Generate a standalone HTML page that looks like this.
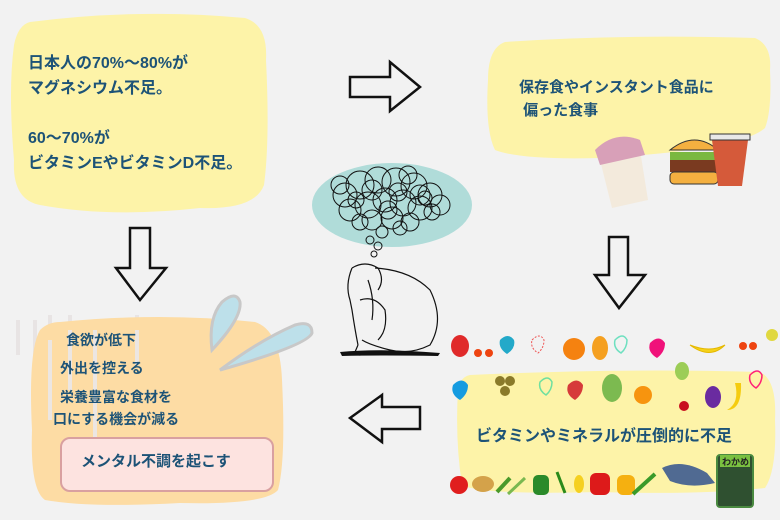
<!DOCTYPE html>
<html><head><meta charset="utf-8"><style>
html,body{margin:0;padding:0;background:#f2f2f2;}
#c{position:relative;width:780px;height:520px;overflow:hidden;background:#f2f2f2;font-family:"Liberation Sans","Noto Sans CJK JP",sans-serif;font-weight:bold;color:#1d5377;}
.t{position:absolute;white-space:nowrap;}
svg{position:absolute;left:0;top:0;}
</style></head><body><div id="c">
<svg width="780" height="520" viewBox="0 0 780 520">
<path d="M30 22 Q140 8 245 18 Q268 25 266 60 Q270 140 264 185 Q255 210 200 208 Q110 218 40 205 Q12 200 14 160 Q8 90 14 45 Q18 25 30 22Z" fill="#fdf3a8"/>
<path d="M505 42 Q620 34 755 38 Q772 45 770 70 Q772 110 765 128 Q740 150 600 158 Q520 160 495 150 Q485 130 488 80 Q488 48 505 42Z" fill="#fdf3a8"/>
<g stroke="#e8e4e4" stroke-width="4" fill="none"><path d="M18 320 L18 355"/><path d="M35 320 L35 380"/><path d="M50 315 L50 420"/><path d="M70 315 L70 390"/><path d="M95 320 L95 455"/><path d="M137 315 L137 365"/></g>
<path d="M60 322 Q160 312 255 322 Q280 330 282 380 Q286 460 278 490 Q265 505 180 503 Q90 508 45 500 Q30 490 32 430 Q28 350 40 330 Q48 322 60 322Z" fill="#fddca4"/>
<g stroke="#ece6e2" stroke-width="4" fill="none"><path d="M50 340 L50 420"/><path d="M70 330 L70 390"/><path d="M95 330 L95 455"/><path d="M137 330 L137 365"/></g>
<rect x="61" y="438" width="212" height="53" rx="9" fill="#fde3e0" stroke="#d9a0a0" stroke-width="2"/>
<path d="M470 375 Q620 368 760 372 Q777 380 775 420 Q777 470 765 488 Q700 495 600 492 Q480 495 462 485 Q455 440 458 390 Q460 377 470 375Z" fill="#fdf3a8"/>
<g fill="none" stroke="#111" stroke-width="2.5" stroke-linejoin="miter">
<path d="M350 77 L390 77 L390 62 L420 87 L390 111 L390 97 L350 97Z"/>
<path d="M130 228 L150 228 L150 268 L166 268 L140 300 L116 268 L130 268Z"/>
<path d="M609 237 L628 237 L628 275 L645 275 L619 308 L595 275 L609 275Z"/>
<path d="M420 407 L382 407 L382 395 L350 418 L382 442 L382 429 L420 429Z"/>
</g>
<ellipse cx="392" cy="205" rx="80" ry="42" fill="#b0dcd9"/>
<g fill="none" stroke="#111" stroke-width="1">
<circle cx="345" cy="195" r="12"/><circle cx="360" cy="185" r="14"/><circle cx="378" cy="180" r="13"/><circle cx="396" cy="182" r="14"/><circle cx="414" cy="186" r="13"/><circle cx="430" cy="195" r="12"/><circle cx="440" cy="205" r="10"/>
<circle cx="350" cy="210" r="11"/><circle cx="368" cy="205" r="13"/><circle cx="385" cy="200" r="12"/><circle cx="403" cy="203" r="13"/><circle cx="420" cy="208" r="12"/><circle cx="372" cy="220" r="10"/><circle cx="392" cy="218" r="11"/><circle cx="410" cy="222" r="9"/><circle cx="382" cy="232" r="6"/><circle cx="370" cy="240" r="4"/>
<circle cx="356" cy="200" r="8"/><circle cx="398" cy="192" r="9"/><circle cx="425" cy="198" r="7"/>
<circle cx="340" cy="185" r="9"/><circle cx="372" cy="190" r="10"/><circle cx="388" cy="210" r="9"/><circle cx="408" cy="175" r="9"/><circle cx="432" cy="212" r="8"/><circle cx="360" cy="222" r="8"/><circle cx="400" cy="228" r="7"/><circle cx="420" cy="195" r="10"/><circle cx="378" cy="246" r="4"/><circle cx="374" cy="254" r="3"/>
</g>
<g fill="none" stroke="#111" stroke-width="1.2">
<path d="M352 268 Q345 285 350 300 L352 310 Q355 330 358 345"/>
<path d="M352 268 Q365 260 378 268 Q385 280 378 290"/>
<path d="M375 268 Q410 270 430 290 Q445 320 430 345 Q410 355 390 350 Q370 345 362 340"/>
<path d="M360 300 Q375 295 385 310 Q388 330 378 340"/>
<path d="M368 280 Q375 300 372 320"/>
<path d="M358 345 L355 352 Q352 355 360 355 L370 352"/>
</g>
<path d="M340 352 Q380 348 440 353 L438 356 Q380 355 342 356Z" fill="#111"/>
<g>
<ellipse cx="460" cy="346" rx="9" ry="11" fill="#e02a2a"/><circle cx="478" cy="353" r="4" fill="#e41"/><circle cx="489" cy="353" r="4" fill="#e41"/>
<path d="M500 340 q8-8 14 0 q2 8-7 14 q-9-6-7-14z" fill="#23a9c9"/>
<path d="M532 340 q8-8 12 0 q0 8-6 13 q-8-5-6-13z" fill="none" stroke="#e55" stroke-dasharray="2 1.5"/>
<circle cx="574" cy="349" r="11" fill="#f58210"/>
<ellipse cx="600" cy="348" rx="8" ry="12" fill="#f5a020"/>
<path d="M615 340 q8-8 12 0 q0 8-6 13 q-8-5-6-13z" fill="none" stroke="#6ee0c0" stroke-width="1.5"/>
<path d="M650 343 q9-9 15 0 q0 9-8 15 q-10-6-7-15z" fill="#f0127a"/>
<path d="M690 345 q20 15 35 0 q-15 8-35 0z" fill="#f5d21a" stroke="#e5b800"/>
<circle cx="743" cy="346" r="4" fill="#e41"/><circle cx="753" cy="346" r="4" fill="#e41"/><circle cx="772" cy="335" r="6" fill="#e0d840"/>
<path d="M453 385 q9-9 15 0 q0 9-8 15 q-10-6-7-15z" fill="#159be0"/>
<circle cx="500" cy="381" r="5" fill="#8a7a2a"/><circle cx="510" cy="381" r="5" fill="#8a7a2a"/><circle cx="505" cy="391" r="5" fill="#8a7a2a"/>
<path d="M540 382 q8-8 12 0 q0 8-6 13 q-8-5-6-13z" fill="none" stroke="#6ee0a0" stroke-width="1.5"/>
<path d="M568 385 q9-9 15 0 q0 9-8 15 q-10-6-7-15z" fill="#d63a3a"/>
<ellipse cx="612" cy="388" rx="10" ry="14" fill="#7cba50"/>
<circle cx="643" cy="395" r="9" fill="#f7940e"/>
<ellipse cx="682" cy="371" rx="7" ry="9" fill="#9ccd57"/>
<circle cx="684" cy="406" r="5" fill="#c8101e"/>
<ellipse cx="713" cy="397" rx="8" ry="11" fill="#6a2ba0"/>
<path d="M735 383 q5 20-8 27 q15 0 14-27z" fill="#f5cc10"/>
<path d="M750 375 q8-8 12 0 q0 8-6 13 q-8-5-6-13z" fill="none" stroke="#f27" stroke-width="1.5"/>
<circle cx="459" cy="485" r="9" fill="#e01e1e"/>
<ellipse cx="483" cy="484" rx="11" ry="8" fill="#d4a24a"/>
<path d="M497 492 L510 478" stroke="#4a9a2a" stroke-width="4"/>
<path d="M508 494 L525 478" stroke="#7ab850" stroke-width="3"/>
<rect x="533" y="475" width="16" height="20" rx="5" fill="#2a8a2a"/>
<path d="M557 472 L565 493" stroke="#2a8a1a" stroke-width="3"/>
<ellipse cx="579" cy="484" rx="5" ry="9" fill="#f5d020"/>
<rect x="590" y="473" width="20" height="22" rx="6" fill="#dd1a1a"/>
<rect x="617" y="475" width="18" height="20" rx="6" fill="#f5b010"/>
<path d="M633 494 L655 474" stroke="#3a9a2a" stroke-width="4"/>
<path d="M662 468 q20-10 45 5 l8 10 q-25 6-45-2z" fill="#506a92"/>
<rect x="717" y="455" width="36" height="52" rx="3" fill="#2f5030" stroke="#4a8a40" stroke-width="2"/>
<rect x="720" y="455" width="30" height="12" fill="#7ac040"/>
<text x="722" y="465" font-size="9" fill="#222" font-family="Liberation Sans,Noto Sans CJK JP,sans-serif">わかめ</text>
<path d="M600 160 L640 150 L648 200 L612 208Z" fill="#f3eadc"/>
<path d="M595 150 Q615 130 640 140 L645 155 L600 165Z" fill="#d8a0b8"/>
<path d="M670 150 Q695 130 718 150Z" fill="#f4b040" stroke="#333"/>
<rect x="670" y="152" width="48" height="8" fill="#7ab840"/>
<rect x="670" y="160" width="48" height="12" fill="#7a3a20"/>
<rect x="670" y="172" width="48" height="12" rx="4" fill="#f4b040" stroke="#333"/>
<path d="M712 140 L748 140 L742 186 L718 186Z" fill="#d55a3a"/>
<rect x="710" y="134" width="40" height="6" fill="#e8e8e8" stroke="#333"/>
<path d="M212 350 Q208 318 222 302 Q236 290 240 302 Q242 318 212 350Z" fill="#bde0ea" stroke="#c8c8c8" stroke-width="3"/>
<path d="M220 370 Q260 340 295 325 Q312 320 312 333 Q308 345 220 370Z" fill="#bde0ea" stroke="#c8c8c8" stroke-width="3"/>
</g>
</svg>
<div class="t" style="left:28px;top:51px;font-size:16px;line-height:25px;">日本人の70%～80%が<br>マグネシウム不足。<br><br>60～70%が<br>ビタミンEやビタミンD不足。</div>
<div class="t" style="left:519px;top:76px;font-size:15px;line-height:23px;">保存食やインスタント食品に<br>&nbsp;偏った食事</div>
<div class="t" style="left:66px;top:330px;font-size:14px;">食欲が低下</div>
<div class="t" style="left:60px;top:358px;font-size:14px;">外出を控える</div>
<div class="t" style="left:60px;top:386px;font-size:14px;line-height:22px;">栄養豊富な食材を<br><span style="margin-left:-7px">口にする機会が減る</span></div>
<div class="t" style="left:81px;top:450px;font-size:15px;">メンタル不調を起こす</div>
<div class="t" style="left:476px;top:422px;font-size:16px;">ビタミンやミネラルが圧倒的に不足</div>
</div></body></html>
